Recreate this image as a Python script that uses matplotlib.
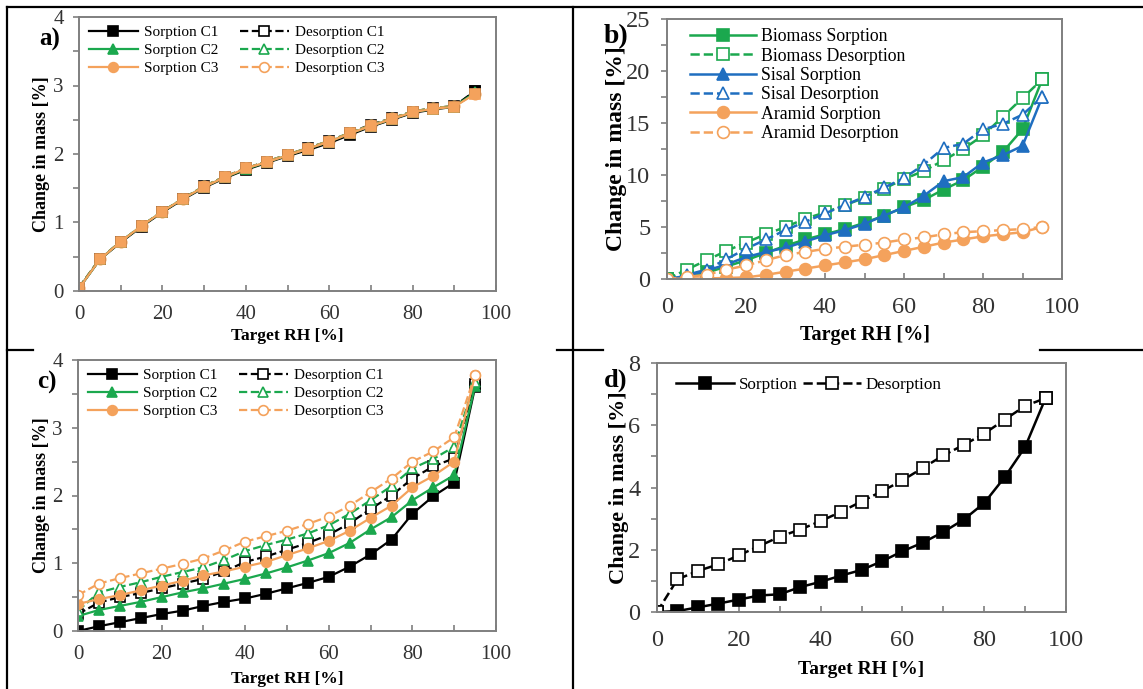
import matplotlib
matplotlib.use("Agg")
import matplotlib.pyplot as plt
from matplotlib.lines import Line2D
from matplotlib.ticker import MultipleLocator

plt.rcParams['font.family'] = ['Liberation Serif', 'DejaVu Serif']

# ---------------- data ----------------
rh = [0, 5, 10, 15, 20, 25, 30, 35, 40, 45, 50, 55, 60, 65, 70, 75, 80, 85, 90, 95]

# panel a
a_sorp_c1 = [0.04, 0.46, 0.71, 0.94, 1.15, 1.34, 1.51, 1.65, 1.77, 1.87, 1.97, 2.06, 2.16, 2.28, 2.40, 2.50, 2.60, 2.65, 2.69, 2.92]
a_desp_c1 = [0.05, 0.47, 0.72, 0.95, 1.16, 1.35, 1.53, 1.67, 1.79, 1.89, 1.99, 2.09, 2.19, 2.31, 2.43, 2.52, 2.62, 2.67, 2.70, 2.92]
a_sorp_c2 = [0.04, 0.46, 0.72, 0.95, 1.16, 1.35, 1.52, 1.66, 1.78, 1.88, 1.98, 2.08, 2.18, 2.30, 2.41, 2.51, 2.61, 2.66, 2.69, 2.90]
a_desp_c2 = [0.05, 0.47, 0.72, 0.95, 1.16, 1.35, 1.53, 1.67, 1.79, 1.89, 1.99, 2.09, 2.19, 2.31, 2.42, 2.52, 2.62, 2.67, 2.70, 2.90]
a_sorp_c3 = [0.04, 0.46, 0.72, 0.95, 1.16, 1.35, 1.52, 1.66, 1.79, 1.88, 1.98, 2.08, 2.18, 2.30, 2.41, 2.51, 2.61, 2.66, 2.69, 2.88]
a_desp_c3 = [0.05, 0.47, 0.72, 0.95, 1.16, 1.35, 1.53, 1.67, 1.79, 1.89, 1.99, 2.09, 2.19, 2.31, 2.42, 2.52, 2.62, 2.67, 2.70, 2.88]

# panel b
b_bio_sorp = [0.0, 0.2, 0.6, 1.2, 1.8, 2.5, 3.2, 3.8, 4.3, 4.8, 5.4, 6.1, 6.9, 7.6, 8.6, 9.5, 10.8, 12.2, 14.4, 19.2]
b_bio_desp = [0.0, 0.9, 1.8, 2.7, 3.5, 4.3, 5.0, 5.8, 6.4, 7.1, 7.8, 8.7, 9.6, 10.4, 11.4, 12.5, 13.8, 15.6, 17.4, 19.2]
b_sis_sorp = [0.0, 0.3, 0.8, 1.4, 2.1, 2.6, 3.0, 3.6, 4.2, 4.7, 5.3, 6.1, 6.9, 8.0, 9.4, 9.8, 11.2, 11.9, 12.8, 17.5]
b_sis_desp = [0.0, 0.4, 0.9, 1.9, 2.9, 3.8, 4.7, 5.5, 6.3, 7.1, 7.9, 8.8, 9.7, 11.0, 12.6, 13.0, 14.4, 14.9, 15.8, 17.5]
b_ara_sorp = [0.0, 0.05, 0.05, 0.1, 0.15, 0.4, 0.7, 1.0, 1.3, 1.6, 1.9, 2.3, 2.7, 3.1, 3.5, 3.8, 4.1, 4.3, 4.5, 5.0]
b_ara_desp = [0.0, 0.2, 0.4, 0.9, 1.3, 1.8, 2.3, 2.6, 2.9, 3.1, 3.3, 3.5, 3.8, 4.0, 4.3, 4.5, 4.6, 4.7, 4.8, 5.0]

# panel c
c_sorp_c1 = [0.0, 0.07, 0.13, 0.19, 0.25, 0.30, 0.37, 0.43, 0.48, 0.55, 0.63, 0.71, 0.80, 0.95, 1.13, 1.35, 1.73, 1.99, 2.19, 3.60]
c_desp_c1 = [0.25, 0.42, 0.50, 0.56, 0.63, 0.70, 0.77, 0.88, 1.02, 1.10, 1.20, 1.30, 1.42, 1.59, 1.80, 2.00, 2.25, 2.43, 2.55, 3.65]
c_sorp_c2 = [0.22, 0.31, 0.37, 0.43, 0.50, 0.57, 0.63, 0.70, 0.77, 0.85, 0.94, 1.04, 1.15, 1.30, 1.50, 1.68, 1.93, 2.12, 2.30, 3.62]
c_desp_c2 = [0.30, 0.57, 0.65, 0.72, 0.80, 0.87, 0.94, 1.05, 1.18, 1.27, 1.35, 1.44, 1.56, 1.73, 1.93, 2.14, 2.40, 2.54, 2.72, 3.68]
c_sorp_c3 = [0.40, 0.47, 0.53, 0.60, 0.67, 0.74, 0.82, 0.88, 0.95, 1.02, 1.12, 1.22, 1.33, 1.48, 1.67, 1.85, 2.12, 2.29, 2.50, 3.78]
c_desp_c3 = [0.53, 0.70, 0.78, 0.85, 0.92, 0.99, 1.07, 1.19, 1.32, 1.40, 1.48, 1.58, 1.69, 1.85, 2.05, 2.25, 2.50, 2.65, 2.86, 3.78]

# panel d
d_sorp = [0.0, 0.03, 0.15, 0.27, 0.40, 0.53, 0.57, 0.80, 0.97, 1.17, 1.35, 1.63, 1.95, 2.23, 2.57, 2.97, 3.50, 4.33, 5.30, 6.87]
d_desp = [0.0, 1.05, 1.32, 1.53, 1.82, 2.12, 2.42, 2.65, 2.92, 3.22, 3.55, 3.88, 4.23, 4.63, 5.03, 5.37, 5.73, 6.18, 6.62, 6.87]

BLACK = '#000000'
GREEN = '#1BA84E'
BLUE = '#1F6EC0'
ORANGE = '#F4A25C'
SPINE = '#7f7f7f'
TICKC = '#333333'

W, H = 1143, 689
fig = plt.figure(figsize=(W / 100, H / 100), dpi=100)


def rect(l, t, r, b):
    return [l / W, 1 - b / H, (r - l) / W, (b - t) / H]


def style_axes(ax, ymax, ymajor, yminor, fs_tick, fs_xlab, fs_ylab, xpad, ypad, xlp, ylp):
    ax.set_xlim(0, 100)
    ax.set_ylim(0, ymax)
    ax.xaxis.set_major_locator(MultipleLocator(20))
    ax.xaxis.set_minor_locator(MultipleLocator(10))
    ax.yaxis.set_major_locator(MultipleLocator(ymajor))
    ax.yaxis.set_minor_locator(MultipleLocator(yminor))
    for s in ax.spines.values():
        s.set_color(SPINE)
        s.set_linewidth(1.4)
    ax.tick_params(axis='x', which='both', direction='in', length=4, width=1.2,
                   color=SPINE, labelsize=fs_tick, labelcolor=TICKC, pad=xpad)
    ax.tick_params(axis='y', which='both', direction='out', length=4, width=1.2,
                   color=SPINE, labelsize=fs_tick, labelcolor=TICKC, pad=ypad)
    ax.set_xlabel('Target RH [%]', fontsize=fs_xlab, fontweight='bold', labelpad=xlp)
    ax.set_ylabel('Change in mass [%]', fontsize=fs_ylab, fontweight='bold', labelpad=ylp)


def plot_series(ax, y, color, marker, filled, dashed, ms, lw, label):
    ax.plot(rh, y, color=color, linestyle='--' if dashed else '-', linewidth=lw,
            marker=marker, markersize=ms,
            markerfacecolor=color if filled else 'white',
            markeredgecolor=color, markeredgewidth=1.2, label=label)


def leg_handles(items, ms, lw):
    hs = []
    for c, m, f, d, lab in items:
        hs.append(Line2D([], [], color=c, linestyle='--' if d else '-', linewidth=lw,
                         marker=m, markersize=ms, markerfacecolor=c if f else 'white',
                         markeredgecolor=c, markeredgewidth=1.2, label=lab))
    return hs


leg_c_items = [
    (BLACK, 's', True, False, 'Sorption C1'),
    (GREEN, '^', True, False, 'Sorption C2'),
    (ORANGE, 'o', True, False, 'Sorption C3'),
    (BLACK, 's', False, True, 'Desorption C1'),
    (GREEN, '^', False, True, 'Desorption C2'),
    (ORANGE, 'o', False, True, 'Desorption C3'),
]

# ---------------- panel a ----------------
axa = fig.add_axes(rect(79, 17, 496, 291))
specs_a = [
    (a_desp_c1, BLACK, 's', False, True),
    (a_desp_c2, GREEN, '^', False, True),
    (a_desp_c3, ORANGE, 'o', False, True),
    (a_sorp_c1, BLACK, 's', True, False),
    (a_sorp_c2, GREEN, '^', True, False),
    (a_sorp_c3, ORANGE, 's', True, False),
]
for y, c, m, f, d in specs_a:
    plot_series(axa, y, c, m, f, d, 7.5, 1.6, None)
style_axes(axa, 4, 1, 0.5, 15, 12.5, 13, 10, 7, 3, 2)
axa.legend(handles=leg_handles(leg_c_items, 7, 1.6), ncol=2, loc='upper left',
           bbox_to_anchor=(-0.002, 1.007), frameon=False, fontsize=11,
           handlelength=3.2, handletextpad=0.4, columnspacing=1.4,
           labelspacing=0.28, borderaxespad=0.3)
fig.text(39 / W, 1 - 39 / H, 'a)', fontsize=18, fontweight='bold', va='center', ha='left')

# ---------------- panel b ----------------
axb = fig.add_axes(rect(667, 19, 1062, 279))
specs_b = [
    (b_bio_sorp, GREEN, 's', True, False, 'Biomass Sorption'),
    (b_bio_desp, GREEN, 's', False, True, 'Biomass Desorption'),
    (b_sis_sorp, BLUE, '^', True, False, 'Sisal Sorption'),
    (b_sis_desp, BLUE, '^', False, True, 'Sisal Desorption'),
    (b_ara_sorp, ORANGE, 'o', True, False, 'Aramid Sorption'),
    (b_ara_desp, ORANGE, 'o', False, True, 'Aramid Desorption'),
]
for y, c, m, f, d, lab in specs_b:
    plot_series(axb, y, c, m, f, d, 8.5, 1.8, lab)
style_axes(axb, 25, 5, 2.5, 17.5, 14.5, 17, 13, 8, 5, -1)
axb.legend(handles=leg_handles([(c, m, f, d, lab) for _, c, m, f, d, lab in specs_b], 8.5, 1.8),
           loc='upper left', bbox_to_anchor=(0.027, 1.012), frameon=False, fontsize=12.8,
           handlelength=3.7, handletextpad=0.3, labelspacing=0.13, borderaxespad=0.3)
fig.text(604 / W, 1 - 37 / H, 'b)', fontsize=20, fontweight='bold', va='center', ha='left')

# ---------------- panel c ----------------
axc = fig.add_axes(rect(78, 360, 496, 631))
specs_c = [
    (c_sorp_c1, BLACK, 's', True, False),
    (c_desp_c1, BLACK, 's', False, True),
    (c_sorp_c2, GREEN, '^', True, False),
    (c_desp_c2, GREEN, '^', False, True),
    (c_sorp_c3, ORANGE, 'o', True, False),
    (c_desp_c3, ORANGE, 'o', False, True),
]
for y, c, m, f, d in specs_c:
    plot_series(axc, y, c, m, f, d, 7, 1.6, None)
style_axes(axc, 4, 1, 0.5, 15, 12.5, 13, 10, 7, 5, 1.5)
axc.legend(handles=leg_handles(leg_c_items, 7, 1.6), ncol=2, loc='upper left',
           bbox_to_anchor=(-0.002, 1.007), frameon=False, fontsize=11,
           handlelength=3.2, handletextpad=0.4, columnspacing=1.4,
           labelspacing=0.28, borderaxespad=0.3)
fig.text(37 / W, 1 - 382 / H, 'c)', fontsize=18, fontweight='bold', va='center', ha='left')

# ---------------- panel d ----------------
axd = fig.add_axes(rect(657, 363, 1066, 612))
plot_series(axd, d_sorp, BLACK, 's', True, False, 8.5, 1.8, 'Sorption')
plot_series(axd, d_desp, BLACK, 's', False, True, 8.5, 1.8, 'Desorption')
style_axes(axd, 8, 2, 1, 17.5, 14, 16, 13, 8, 7, -0.5)
axd.legend(ncol=2, loc='upper left', bbox_to_anchor=(0.012, 1.0), frameon=False,
           fontsize=12.3, handlelength=3.4, handletextpad=0.3, columnspacing=0.3,
           borderaxespad=0.4)
fig.text(604 / W, 1 - 380 / H, 'd)', fontsize=19, fontweight='bold', va='center', ha='left')

# ---------------- table borders ----------------
def hline(y, x0, x1, lw=1.6):
    fig.add_artist(Line2D([x0 / W, x1 / W], [1 - y / H, 1 - y / H], color='black', linewidth=lw))


def vline(x, y0, y1, lw=1.6):
    fig.add_artist(Line2D([x / W, x / W], [1 - y0 / H, 1 - y1 / H], color='black', linewidth=lw))


hline(7, 7, 1143)
vline(7, 7, 689)
vline(573, 7, 689)
hline(350, 7, 33)
hline(350, 557, 603)
hline(350, 1040, 1143)

fig.savefig('out.png', dpi=100)
